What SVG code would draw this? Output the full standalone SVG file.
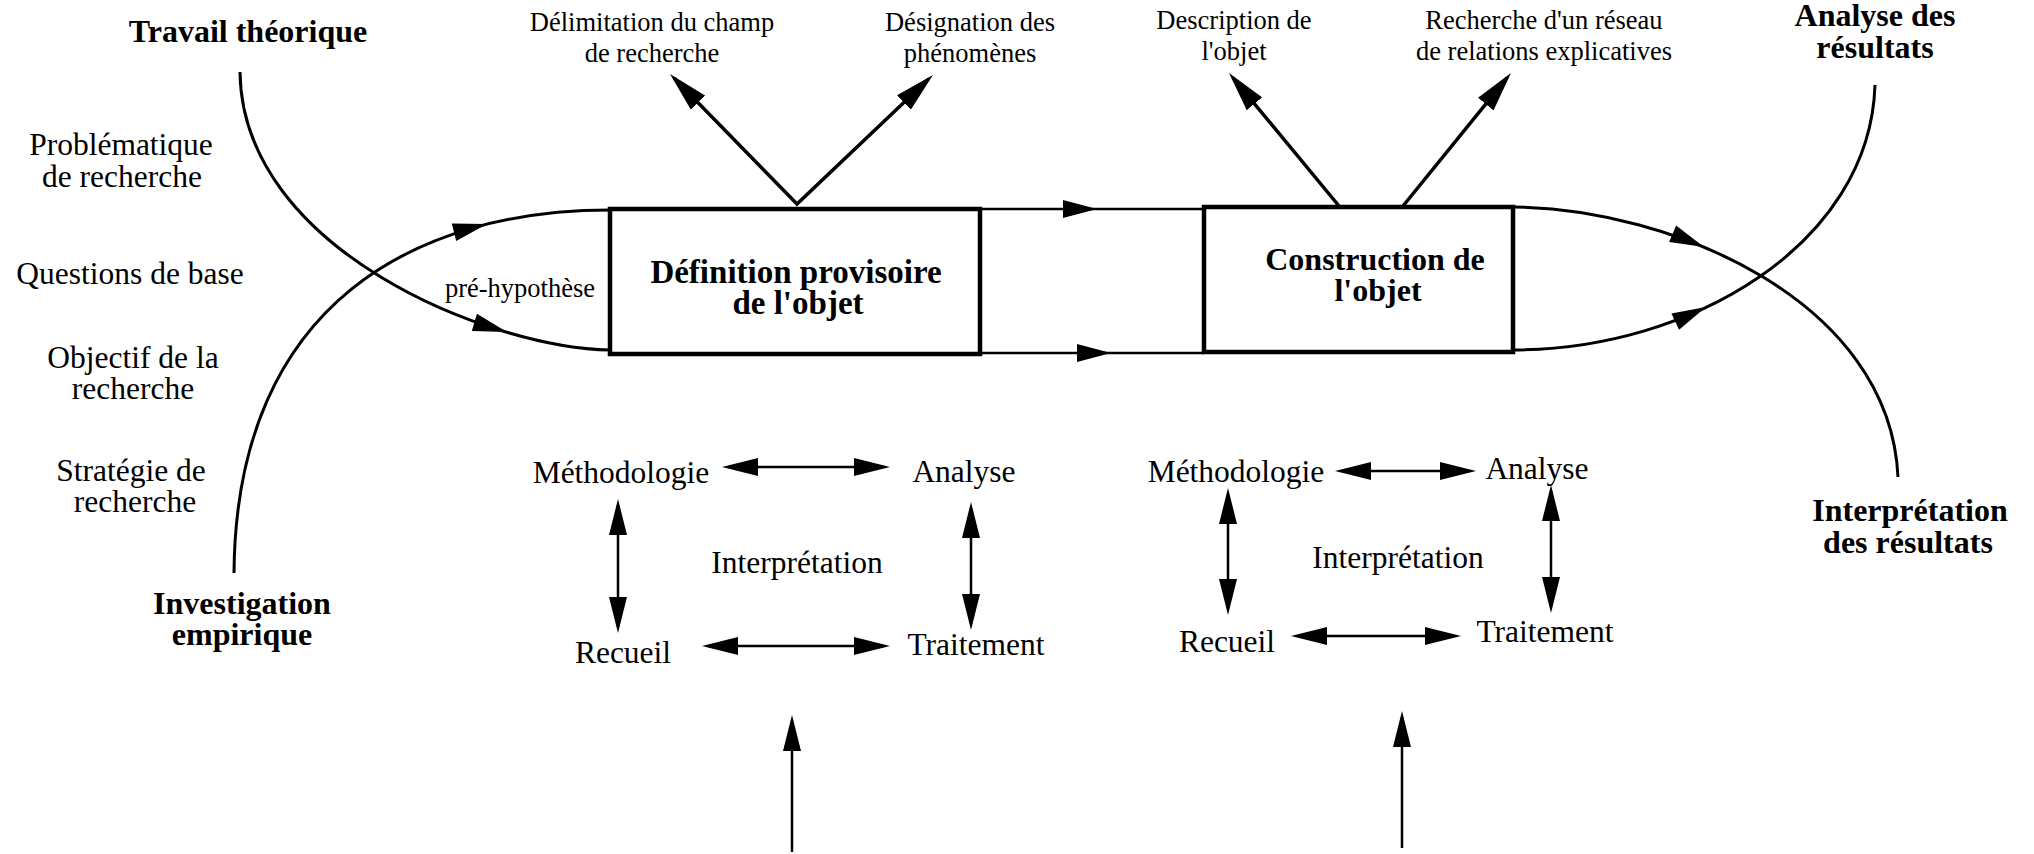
<svg xmlns="http://www.w3.org/2000/svg" width="2034" height="854" viewBox="0 0 2034 854">
<style>
text{font-family:"Liberation Serif","Times New Roman",serif;fill:#000;text-anchor:middle}
.r{font-size:31.5px}
.s{font-size:26.5px}
.b{font-size:32px;font-weight:bold}
.bb{font-size:33px;font-weight:bold}
.box{fill:none;stroke:#000;stroke-width:4.5}
.cv{fill:none;stroke:#000;stroke-width:3}
.ln{fill:none;stroke:#000;stroke-width:2.5}
.va{fill:none;stroke:#000;stroke-width:3.5;stroke-linejoin:miter}
.hd{fill:#000}
</style>
<defs>
<marker id="arr" viewBox="0 0 36 18" refX="30" refY="9" markerWidth="36" markerHeight="18" markerUnits="userSpaceOnUse" orient="auto-start-reverse"><path d="M0,0 L36,9 L0,18 z" fill="#000"/></marker>
<marker id="arrV" viewBox="0 0 40 20" refX="34" refY="10" markerWidth="40" markerHeight="20" markerUnits="userSpaceOnUse" orient="auto-start-reverse"><path d="M0,0 L40,10 L0,20 z" fill="#000"/></marker>
<polygon id="head" points="0,0 -34,-9 -34,9"/>
</defs>
<rect width="2034" height="854" fill="#fff"/>

<g id="connectors">
<!-- left crossing curves -->
<path class="cv" d="M240,72 C242,250 490,348 610,350"/>
<path class="cv" d="M234,573 C236,300 420,210 610,210"/>
<use href="#head" class="hd" transform="translate(507,332) rotate(16.4)"/>
<use href="#head" class="hd" transform="translate(487,224) rotate(-14)"/>
<!-- lines between boxes -->
<line class="ln" x1="980" y1="209" x2="1204" y2="209"/>
<line class="ln" x1="980" y1="353" x2="1204" y2="353"/>
<use href="#head" class="hd" transform="translate(1097,209)"/>
<use href="#head" class="hd" transform="translate(1111,353)"/>
<!-- right crossing curves -->
<path class="cv" d="M1513,207 C1670,208 1890,300 1898,477"/>
<path class="cv" d="M1513,350 C1690,350 1870,245 1875,85"/>
<use href="#head" class="hd" transform="translate(1704,247) rotate(22.8)"/>
<use href="#head" class="hd" transform="translate(1706,307) rotate(-25.3)"/>
<!-- V arrows -->
<path class="va" d="M674.2,78.3 L797,204 L928.6,79.1" marker-start="url(#arrV)" marker-end="url(#arrV)"/>
<line class="va" x1="1339" y1="206" x2="1232.8" y2="77.6" marker-end="url(#arrV)"/>
<line class="va" x1="1403" y1="206" x2="1507.2" y2="77.7" marker-end="url(#arrV)"/>
<!-- cycle 1 -->
<line class="ln" x1="728" y1="467" x2="884" y2="467" marker-start="url(#arr)" marker-end="url(#arr)"/>
<line class="ln" x1="708" y1="646" x2="884" y2="646" marker-start="url(#arr)" marker-end="url(#arr)"/>
<line class="ln" x1="618" y1="505" x2="618" y2="627" marker-start="url(#arr)" marker-end="url(#arr)"/>
<line class="ln" x1="971" y1="508" x2="971" y2="624" marker-start="url(#arr)" marker-end="url(#arr)"/>
<line class="ln" x1="792" y1="852" x2="792" y2="721" marker-end="url(#arr)"/>
<!-- cycle 2 -->
<line class="ln" x1="1341" y1="471" x2="1470" y2="471" marker-start="url(#arr)" marker-end="url(#arr)"/>
<line class="ln" x1="1297" y1="636" x2="1455" y2="636" marker-start="url(#arr)" marker-end="url(#arr)"/>
<line class="ln" x1="1228" y1="494" x2="1228" y2="609" marker-start="url(#arr)" marker-end="url(#arr)"/>
<line class="ln" x1="1551" y1="491" x2="1551" y2="607" marker-start="url(#arr)" marker-end="url(#arr)"/>
<line class="ln" x1="1402" y1="848" x2="1402" y2="717" marker-end="url(#arr)"/>
</g>

<g id="box-definition">
<rect class="box" x="610" y="209" width="370" height="145"/>
<text class="bb" x="796" y="283">Définition provisoire</text>
<text class="bb" x="798" y="314">de l'objet</text>
</g>
<g id="box-construction">
<rect class="box" x="1204" y="207" width="309" height="145"/>
<text class="b" x="1375" y="270">Construction de</text>
<text class="b" x="1378" y="301">l'objet</text>
</g>

<g id="travail-theorique"><text class="b" x="248" y="42">Travail théorique</text></g>
<g id="investigation-empirique"><text class="b" x="242" y="614">Investigation</text><text class="b" x="242" y="645">empirique</text></g>
<g id="analyse-resultats"><text class="b" x="1875" y="26">Analyse des</text><text class="b" x="1875" y="58">résultats</text></g>
<g id="interpretation-resultats"><text class="b" x="1910" y="521">Interprétation</text><text class="b" x="1908" y="553">des résultats</text></g>

<g id="problematique"><text class="r" x="121" y="155">Problématique</text><text class="r" x="122" y="187">de recherche</text></g>
<g id="questions"><text class="r" x="130" y="284">Questions de base</text></g>
<g id="objectif"><text class="r" x="133" y="368">Objectif de la</text><text class="r" x="133" y="399">recherche</text></g>
<g id="strategie"><text class="r" x="131" y="481">Stratégie de</text><text class="r" x="135" y="512">recherche</text></g>

<g id="pre-hypothese"><text class="s" x="520" y="297">pré-hypothèse</text></g>

<g id="delimitation"><text class="s" x="652" y="31">Délimitation du champ</text><text class="s" x="652" y="62">de recherche</text></g>
<g id="designation"><text class="s" x="970" y="31">Désignation des</text><text class="s" x="970" y="62">phénomènes</text></g>
<g id="description"><text class="s" x="1234" y="29">Description de</text><text class="s" x="1234" y="60">l'objet</text></g>
<g id="recherche-reseau"><text class="s" x="1544" y="29">Recherche d'un réseau</text><text class="s" x="1544" y="60">de relations explicatives</text></g>

<g id="cycle1">
<text class="r" x="621" y="483">Méthodologie</text>
<text class="r" x="964" y="482">Analyse</text>
<text class="r" x="797" y="573">Interprétation</text>
<text class="r" x="623" y="663">Recueil</text>
<text class="r" x="976" y="655">Traitement</text>
</g>
<g id="cycle2">
<text class="r" x="1236" y="482">Méthodologie</text>
<text class="r" x="1537" y="479">Analyse</text>
<text class="r" x="1398" y="568">Interprétation</text>
<text class="r" x="1227" y="652">Recueil</text>
<text class="r" x="1545" y="642">Traitement</text>
</g>
</svg>
